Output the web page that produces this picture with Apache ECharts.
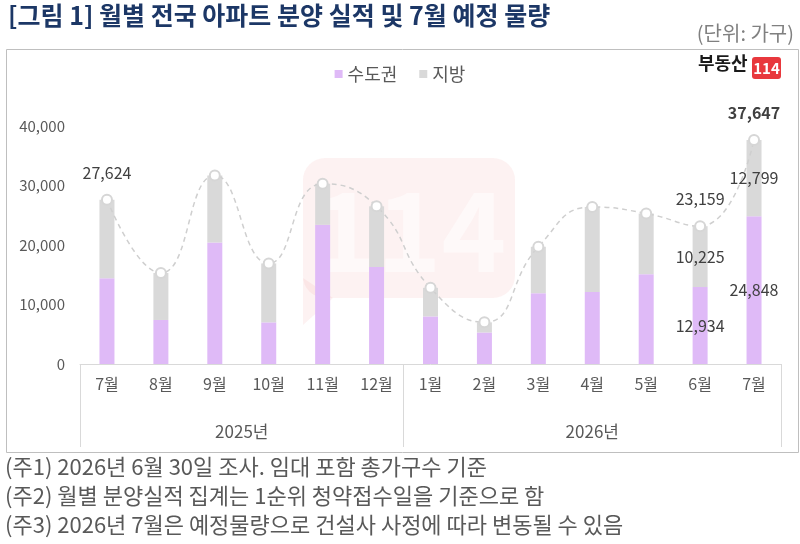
<!DOCTYPE html>
<html>
<head>
<meta charset="utf-8">
<script src="https://cdn.jsdelivr.net/npm/echarts@6/dist/echarts.min.js"></script>
<style>
  html, body { margin: 0; padding: 0; background: #fff; }
  #chart { width: 800px; height: 544px; }
</style>
</head>
<body>
<div id="chart"></div>
<script>
var months = ['7월', '8월', '9월', '10월', '11월', '12월', '1월', '2월', '3월', '4월', '5월', '6월', '7월'];
var yearNames = ['2025년', '2026년'];
var yearCounts = [6, 7];
// 합계 (수도권 + 지방)
var totals = [27624, 15300, 31700, 16900, 30300, 26500, 12800, 7000, 19700, 26400, 25300, 23159, 37647];
var capital = [14400, 7400, 20400, 7000, 23400, 16300, 8000, 5300, 11900, 12100, 15100, 12934, 24848];
var local = totals.map(function (t, i) { return t - capital[i]; });
var yTicks = [0, 10000, 20000, 30000, 40000];
var notes = [
  '(주1) 2026년 6월 30일 조사. 임대 포함 총가구수 기준',
  '(주2) 월별 분양실적 집계는 1순위 청약접수일을 기준으로 함',
  '(주3) 2026년 7월은 예정물량으로 건설사 사정에 따라 변동될 수 있음'
];
var totalLabelIdx = [0, 11, 12];
var partLabelIdx = [11, 12];

var FONT = '"Noto Sans CJK KR", "Noto Sans", sans-serif';
var TXT = '#595959';

// 연도 라벨 위치 (구간 중앙)
var yearMid = {};
var acc = 0;
yearNames.forEach(function (n, i) {
  yearMid[acc + yearCounts[i] / 2] = n;
  acc += yearCounts[i];
});
var yearBounds = [0];
acc = 0;
yearCounts.forEach(function (c) { acc += c; yearBounds.push(acc); });

function fmt(v) { return v.toLocaleString('en-US'); }

function partData(arr) {
  return arr.map(function (v, i) {
    return { value: v, label: { show: partLabelIdx.indexOf(i) >= 0 } };
  });
}

var myChart = echarts.init(document.getElementById('chart'));
var option = {
  animation: false,
  textStyle: { fontFamily: FONT },
  color: ['#DFBAF7', '#D9D9D9'],
  legend: {
    data: ['수도권', '지방'],
    top: 60,
    left: 'center',
    itemWidth: 8,
    itemHeight: 8,
    itemGap: 22,
    icon: 'rect',
    textStyle: { color: TXT, fontSize: 18, fontFamily: FONT }
  },
  grid: { left: 80, right: 19, top: 126, bottom: 180 },
  xAxis: [
    {
      type: 'category',
      data: months,
      axisLine: { lineStyle: { color: '#D9D9D9' } },
      axisTick: {
        show: true,
        length: 83,
        interval: function (idx) { return yearBounds.indexOf(idx) >= 0; },
        lineStyle: { color: '#D9D9D9' }
      },
      axisLabel: { color: TXT, fontSize: 16, margin: 12, interval: 0 }
    },
    {
      type: 'value',
      position: 'bottom',
      min: 0,
      max: months.length,
      interval: 0.5,
      offset: 47,
      axisLine: { show: false },
      axisTick: { show: false },
      splitLine: { show: false },
      axisLabel: {
        color: TXT,
        fontSize: 17,
        margin: 12,
        showMinLabel: true,
        showMaxLabel: true,
        formatter: function (v) { return yearMid[v] || ''; }
      }
    }
  ],
  yAxis: {
    type: 'value',
    min: yTicks[0],
    max: yTicks[yTicks.length - 1],
    interval: 10000,
    axisLine: { show: false },
    axisTick: { show: false },
    splitLine: { show: false },
    axisLabel: {
      color: TXT,
      fontSize: 15,
      margin: 15,
      formatter: function (v) { return fmt(v); }
    }
  },
  series: [
    {
      name: '수도권',
      type: 'bar',
      stack: 'total',
      barWidth: 15,
      data: partData(capital),
      label: {
        position: 'inside',
        color: '#404040',
        fontSize: 16,
        formatter: function (p) { return fmt(p.value); }
      }
    },
    {
      name: '지방',
      type: 'bar',
      stack: 'total',
      barWidth: 15,
      data: partData(local),
      label: {
        position: 'inside',
        color: '#404040',
        fontSize: 16,
        formatter: function (p) { return fmt(p.value); }
      }
    },
    {
      name: '합계',
      type: 'line',
      smooth: 0.5,
      z: 5,
      symbol: 'circle',
      symbolSize: 10,
      lineStyle: { color: '#CFCFCF', width: 1.5, type: [5, 4] },
      itemStyle: { color: '#fff', borderColor: '#D6D6D6', borderWidth: 2 },
      data: totals.map(function (v, i) {
        return {
          value: v,
          label: {
            show: totalLabelIdx.indexOf(i) >= 0,
            fontWeight: i === totals.length - 1 ? 'bold' : 'normal'
          }
        };
      }),
      label: {
        position: 'top',
        distance: 13,
        color: '#404040',
        fontSize: 16,
        formatter: function (p) { return fmt(p.value); }
      }
    }
  ],
  graphic: [
    {
      type: 'text',
      left: 8,
      top: 3,
      style: {
        text: '[그림 1] 월별 전국 아파트 분양 실적 및 7월 예정 물량',
        fill: '#1C3766',
        font: 'bold 25px ' + FONT
      }
    },
    {
      type: 'text',
      right: 6,
      top: 23,
      style: { text: '(단위: 가구)', fill: '#808080', font: '20px ' + FONT }
    },
    {
      type: 'rect',
      left: 4,
      top: 47,
      shape: { width: 792, height: 403 },
      style: { fill: 'none', stroke: '#BFBFBF', lineWidth: 1 },
      silent: true
    },
    // 워터마크
    {
      type: 'group',
      left: 303,
      top: 158,
      z: 10,
      silent: true,
      children: [
        {
          type: 'rect',
          shape: { x: 0, y: 0, width: 212, height: 140, r: 22 },
          style: { fill: 'rgba(232,70,70,0.07)' }
        },
        {
          type: 'polygon',
          shape: { points: [[0, 120], [30, 140], [0, 167]] },
          style: { fill: 'rgba(232,70,70,0.07)' }
        },
        {
          type: 'text',
          x: 106,
          y: 72,
          style: {
            text: '114',
            fill: 'rgba(255,255,255,0.55)',
            font: 'bold 110px ' + FONT,
            textAlign: 'center',
            textVerticalAlign: 'middle'
          }
        }
      ]
    },
    // 로고
    {
      type: 'text',
      left: 698,
      top: 54,
      style: { text: '부동산', fill: '#1A1A1A', font: 'bold 18px ' + FONT }
    },
    {
      type: 'rect',
      left: 752,
      top: 57,
      shape: { width: 29, height: 22, r: 3 },
      style: { fill: '#E8383D' }
    },
    {
      type: 'text',
      x: 766.5,
      y: 68,
      style: {
        text: '114',
        fill: '#fff',
        font: 'bold 15px ' + FONT,
        textAlign: 'center',
        textVerticalAlign: 'middle'
      }
    },
    {
      type: 'group',
      left: 5,
      top: 456,
      children: notes.map(function (t, i) {
        return {
          type: 'text',
          x: 0,
          y: i * 29,
          style: { text: t, fill: TXT, font: '22px ' + FONT }
        };
      })
    }
  ]
};
myChart.setOption(option);
</script>
</body>
</html>
